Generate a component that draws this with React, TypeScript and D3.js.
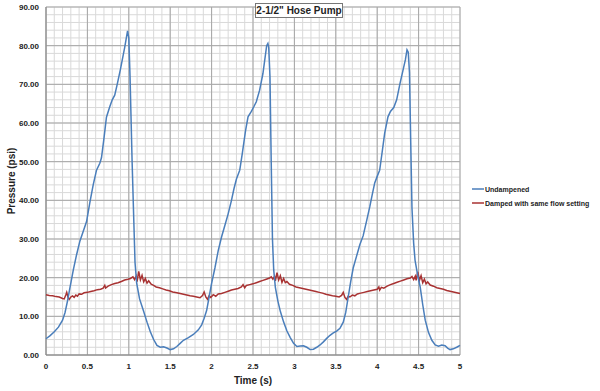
import React from "react";
import * as d3 from "d3";

const blueT = [0.00,0.05,0.10,0.15,0.20,0.23,0.26,0.29,0.33,0.37,0.41,0.45,0.49,0.53,0.57,0.61,0.65,0.67,0.70,0.73,0.77,0.80,0.83,0.86,0.90,0.95,0.985,1.00,1.015,1.04,1.06,1.075,1.095,1.13,1.175,1.22,1.26,1.30,1.34,1.38,1.42,1.46,1.50,1.54,1.58,1.62,1.66,1.72,1.78,1.84,1.88,1.91,1.94,1.97,2.00,2.04,2.08,2.12,2.16,2.20,2.24,2.27,2.30,2.34,2.37,2.41,2.44,2.48,2.51,2.54,2.58,2.62,2.665,2.68,2.69,2.705,2.72,2.735,2.75,2.77,2.80,2.83,2.87,2.91,2.95,2.99,3.03,3.07,3.11,3.15,3.19,3.23,3.27,3.31,3.35,3.39,3.43,3.47,3.51,3.55,3.59,3.62,3.65,3.68,3.71,3.75,3.79,3.83,3.87,3.91,3.94,3.97,4.00,4.03,4.06,4.09,4.13,4.16,4.20,4.235,4.275,4.31,4.34,4.36,4.375,4.39,4.405,4.42,4.44,4.457,4.49,4.52,4.55,4.58,4.62,4.66,4.70,4.74,4.78,4.82,4.85,4.88,4.92,4.96,5.00];
const blueP = [4.2,5.0,6.0,7.2,9.0,11.0,14.0,17.5,22.0,26.0,29.5,32.0,34.5,39.5,44.0,47.8,49.6,51.0,56.0,61.5,64.2,66.0,67.2,70.0,74.0,79.5,83.8,82.0,72.0,50.0,35.0,24.0,18.6,14.5,11.6,8.5,6.0,4.0,2.5,2.0,2.1,1.8,1.4,1.6,2.2,3.0,3.8,4.5,5.3,6.5,7.8,9.5,11.5,15.0,18.5,22.5,27.0,30.5,33.5,36.5,40.0,43.0,45.5,47.8,52.0,58.0,61.6,63.0,64.2,65.5,68.5,72.8,80.0,80.6,79.5,72.0,50.0,30.0,22.0,17.5,14.0,11.3,8.5,6.2,4.5,3.0,2.2,2.3,2.4,2.0,1.4,1.5,2.0,2.6,3.4,4.3,5.1,5.7,6.2,6.9,8.5,11.0,15.0,19.0,22.5,25.5,28.5,30.8,34.5,38.3,41.5,44.5,46.2,47.8,52.5,57.3,61.6,63.0,64.0,66.0,70.2,73.5,76.3,78.9,78.3,73.0,55.0,38.0,29.0,24.5,20.5,17.5,13.0,9.0,5.8,3.8,2.6,2.3,2.6,2.4,1.8,1.4,1.6,2.0,2.5];

const redT = [0.00,0.04,0.08,0.12,0.16,0.20,0.22,0.24,0.25,0.265,0.28,0.30,0.32,0.34,0.36,0.38,0.40,0.43,0.46,0.50,0.54,0.58,0.62,0.66,0.69,0.71,0.72,0.75,0.79,0.83,0.87,0.91,0.95,0.99,1.02,1.05,1.07,1.09,1.10,1.12,1.14,1.16,1.18,1.20,1.22,1.24,1.27,1.30,1.33,1.37,1.41,1.45,1.49,1.53,1.58,1.62,1.66,1.70,1.74,1.78,1.82,1.86,1.89,1.91,1.93,1.95,1.97,1.99,2.02,2.05,2.08,2.12,2.16,2.20,2.24,2.28,2.32,2.36,2.38,2.40,2.42,2.46,2.50,2.54,2.58,2.62,2.66,2.70,2.72,2.74,2.76,2.77,2.79,2.81,2.83,2.85,2.87,2.89,2.91,2.94,2.98,3.02,3.06,3.10,3.14,3.18,3.22,3.26,3.30,3.34,3.38,3.42,3.46,3.50,3.54,3.57,3.59,3.61,3.63,3.65,3.67,3.70,3.73,3.76,3.80,3.84,3.88,3.92,3.96,4.00,4.02,4.03,4.05,4.08,4.12,4.16,4.20,4.24,4.28,4.32,4.36,4.40,4.42,4.44,4.46,4.47,4.49,4.51,4.53,4.55,4.57,4.59,4.61,4.64,4.68,4.72,4.76,4.80,4.84,4.88,4.92,4.96,5.00];
const redP = [15.6,15.4,15.3,15.1,15.0,14.6,14.5,15.6,16.2,15.0,14.4,15.0,15.3,14.9,15.5,15.2,15.8,15.7,16.1,16.2,16.4,16.6,16.9,17.0,17.3,18.0,17.3,17.8,18.2,18.5,18.7,19.0,19.4,19.6,19.8,20.2,19.5,20.4,19.0,21.6,19.4,20.6,18.9,19.8,18.6,19.2,18.3,18.0,17.6,17.4,17.1,16.8,16.6,16.3,16.1,15.9,15.7,15.5,15.3,15.2,15.0,14.8,15.4,16.3,15.0,14.4,15.3,14.9,15.6,15.2,15.8,15.9,16.2,16.5,16.8,17.0,17.2,17.6,18.2,17.4,18.0,18.2,18.4,18.7,19.0,19.3,19.6,19.9,20.2,19.6,20.3,19.2,21.3,19.4,20.5,18.8,19.8,18.7,19.0,18.3,18.0,17.6,17.4,17.2,17.0,16.8,16.6,16.4,16.2,16.0,15.7,15.5,15.3,15.2,15.0,15.4,16.2,14.9,14.4,15.2,15.0,15.5,15.3,15.8,16.0,16.2,16.4,16.6,16.8,17.0,17.6,16.8,17.5,17.3,17.8,18.2,18.5,18.8,19.1,19.4,19.7,19.9,20.3,19.5,20.4,19.3,21.5,19.3,20.5,18.7,19.6,18.4,18.9,18.1,17.8,17.4,17.2,17.0,16.7,16.5,16.3,16.1,15.9];

const xTicks = [0, 0.5, 1, 1.5, 2, 2.5, 3, 3.5, 4, 4.5, 5];
const yTicks = [0, 10, 20, 30, 40, 50, 60, 70, 80, 90];
const seriesNames = ["Undampened", "Damped with same flow setting"];
const seriesColors = ["#4a7ebb", "#a83232"];
const title = "2-1/2\" Hose Pump";

const W = 600, H = 391;
const L = 46, R = 460, T = 7, B = 355;

export default function App() {
  const x = d3.scaleLinear().domain([0, 5]).range([L, R]);
  const y = d3.scaleLinear().domain([0, 90]).range([B, T]);
  const minorX = d3.range(0, 5.0001, 0.1);
  const minorY = d3.range(0, 90.0001, 2);
  const line = d3.line<[number, number]>().x(d => x(d[0])).y(d => y(d[1]));
  const blue = blueT.map((t, i) => [t, blueP[i]] as [number, number]);
  const red = redT.map((t, i) => [t, redP[i]] as [number, number]);
  const font = "'Liberation Sans', Arial, sans-serif";
  return (
    <svg width={W} height={H} style={{ position: "absolute", left: 0, top: 0, background: "#fff" }} fontFamily={font}>
      <rect x={0} y={0} width={W} height={H} fill="#fff" />
      {minorX.map((v, i) => (
        <line key={"mx" + i} x1={x(v)} x2={x(v)} y1={T} y2={B} stroke="#d9d9d9" strokeWidth={1} />
      ))}
      {minorY.map((v, i) => (
        <line key={"my" + i} x1={L} x2={R} y1={y(v)} y2={y(v)} stroke="#d9d9d9" strokeWidth={1} />
      ))}
      {xTicks.map((v, i) => (
        <line key={"Mx" + i} x1={x(v)} x2={x(v)} y1={T} y2={B} stroke="#a6a6a6" strokeWidth={1} />
      ))}
      {yTicks.map((v, i) => (
        <line key={"My" + i} x1={L} x2={R} y1={y(v)} y2={y(v)} stroke="#a6a6a6" strokeWidth={1} />
      ))}
      <line x1={L} x2={L} y1={T} y2={B} stroke="#888" />
      <line x1={L} x2={R} y1={B} y2={B} stroke="#888" />
      {xTicks.map((v, i) => (
        <text key={"xt" + i} x={x(v)} y={369} textAnchor="middle" fontSize={8} fontWeight="bold" fill="#222">{String(v)}</text>
      ))}
      {yTicks.map((v, i) => (
        <text key={"yt" + i} x={39} y={y(v) + 3} textAnchor="end" fontSize={8} fontWeight="bold" fill="#222">{v.toFixed(2)}</text>
      ))}
      <text x={253} y={384} textAnchor="middle" fontSize={10} fontWeight="bold" fill="#222">Time (s)</text>
      <text transform={`translate(15,${(T + B) / 2}) rotate(-90)`} textAnchor="middle" fontSize={10} fontWeight="bold" fill="#222">Pressure (psi)</text>
      <path d={line(red) || ""} fill="none" stroke={seriesColors[1]} strokeWidth={1.5} />
      <path d={line(blue) || ""} fill="none" stroke={seriesColors[0]} strokeWidth={1.5} />
      <rect x={255.5} y={3.5} width={87} height={14} fill="#fff" stroke="#777" />
      <text x={299} y={14} textAnchor="middle" fontSize={10} fontWeight="bold" fill="#222">{title}</text>
      {seriesNames.map((n, i) => (
        <g key={"lg" + i} transform={`translate(472,${189 + i * 14})`}>
          <line x1={0} x2={12} y1={0} y2={0} stroke={seriesColors[i]} strokeWidth={1.5} />
          <text x={13} y={2.5} fontSize={7} fontWeight="bold" fill="#222">{n}</text>
        </g>
      ))}
    </svg>
  );
}
